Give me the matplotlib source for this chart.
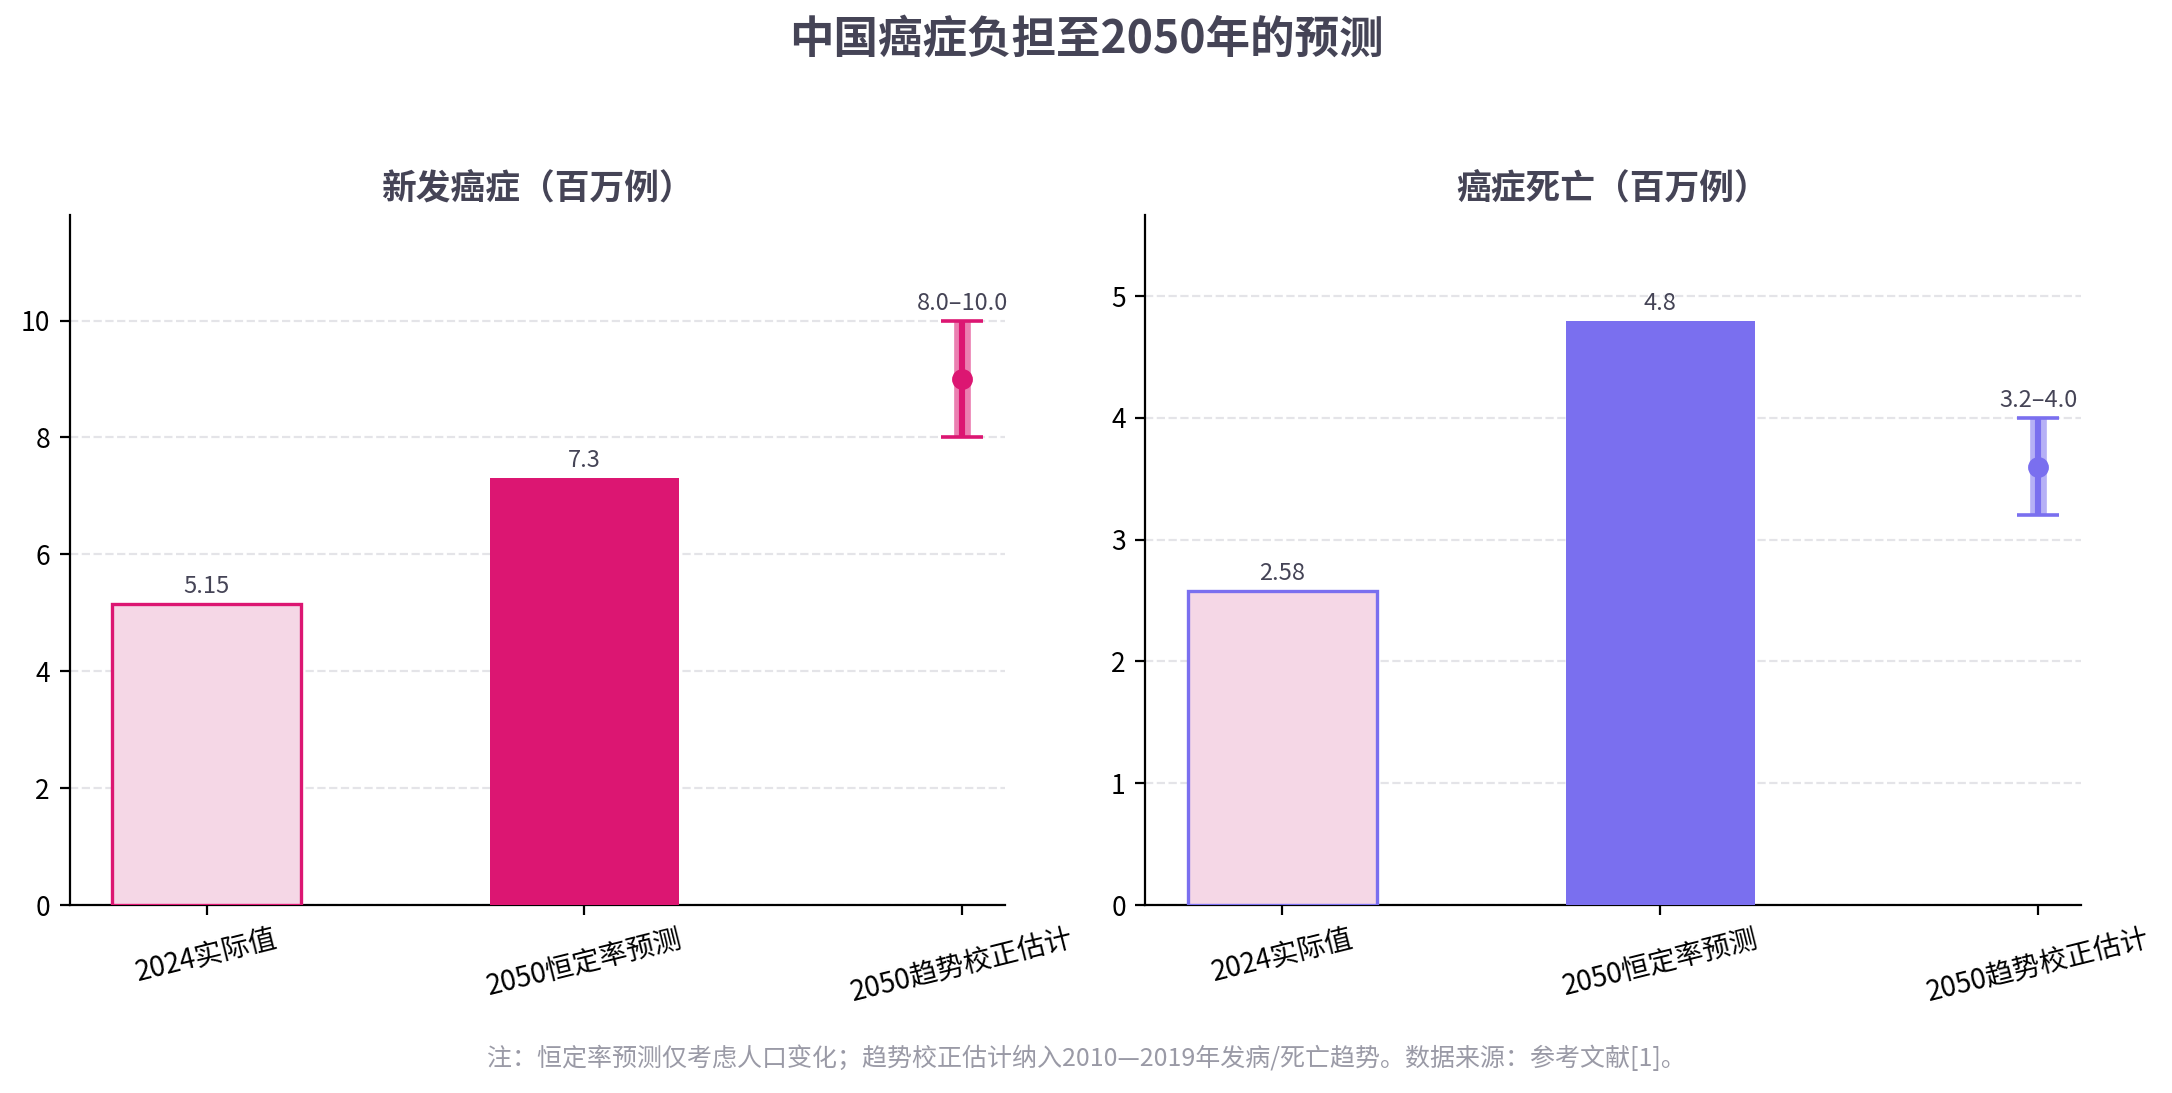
import matplotlib.pyplot as plt

plt.rcParams['font.family'] = ['Noto Sans CJK SC', 'DejaVu Sans']

categories = ['2024实际值', '2050恒定率预测', '2050趋势校正估计']
panel_titles = ['新发癌症（百万例）', '癌症死亡（百万例）']
actual_2024 = [5.15, 2.58]
constant_2050 = [7.3, 4.8]
trend_low = [8.0, 3.2]
trend_high = [10.0, 4.0]
main_colors = ['#dc1672', '#7a6fef']
light_fill = '#f5d7e6'
text_color = '#454456'

fig, axes = plt.subplots(1, 2, figsize=(10.86, 5.465))
fig.subplots_adjust(left=0.032, right=0.958, bottom=0.172, top=0.803, wspace=0.15)

for i, ax in enumerate(axes):
    c = main_colors[i]
    ax.bar([0], [actual_2024[i]], width=0.5, color=light_fill, edgecolor=c, linewidth=1.2, zorder=3)
    ax.bar([1], [constant_2050[i]], width=0.5, color=c, zorder=3)

    mid = (trend_low[i] + trend_high[i]) / 2
    half = (trend_high[i] - trend_low[i]) / 2
    ax.plot([2, 2], [trend_low[i], trend_high[i]], color=c, alpha=0.55, lw=6, solid_capstyle='butt', zorder=3)
    ax.errorbar([2], [mid], yerr=[[half], [half]], fmt='o', color=c, ecolor=c,
                elinewidth=2.2, capsize=7.5, capthick=1.3, markersize=6.5, zorder=4)

    top = max(actual_2024[i], constant_2050[i], trend_high[i])
    ax.set_ylim(0, top * 1.18)
    off = top * 0.01
    ax.text(0, actual_2024[i] + off, f'{actual_2024[i]:g}', ha='center', va='bottom', fontsize=8.5, color=text_color)
    ax.text(1, constant_2050[i] + off, f'{constant_2050[i]:g}', ha='center', va='bottom', fontsize=8.5, color=text_color)
    ax.text(2, trend_high[i] + off, f'{trend_low[i]:.1f}–{trend_high[i]:.1f}', ha='center', va='bottom',
            fontsize=8.5, color=text_color)

    ax.set_xticks(range(3))
    ax.set_xticklabels(categories, rotation=14, fontsize=10)
    ax.tick_params(axis='y', labelsize=9.5)
    ax.set_title(panel_titles[i], fontsize=12.5, fontweight='bold', color=text_color, pad=6)
    ax.grid(axis='y', linestyle='--', color='#e4e4e8', linewidth=0.8, zorder=0)
    ax.set_axisbelow(True)
    ax.spines['top'].set_visible(False)
    ax.spines['right'].set_visible(False)

fig.suptitle('中国癌症负担至2050年的预测', fontsize=16, fontweight='bold', color=text_color, y=0.985)
fig.text(0.5, 0.025, '注：恒定率预测仅考虑人口变化；趋势校正估计纳入2010—2019年发病/死亡趋势。数据来源：参考文献[1]。',
         ha='center', fontsize=9, color='#9a9aa6')

fig.savefig('out.png', dpi=200)
